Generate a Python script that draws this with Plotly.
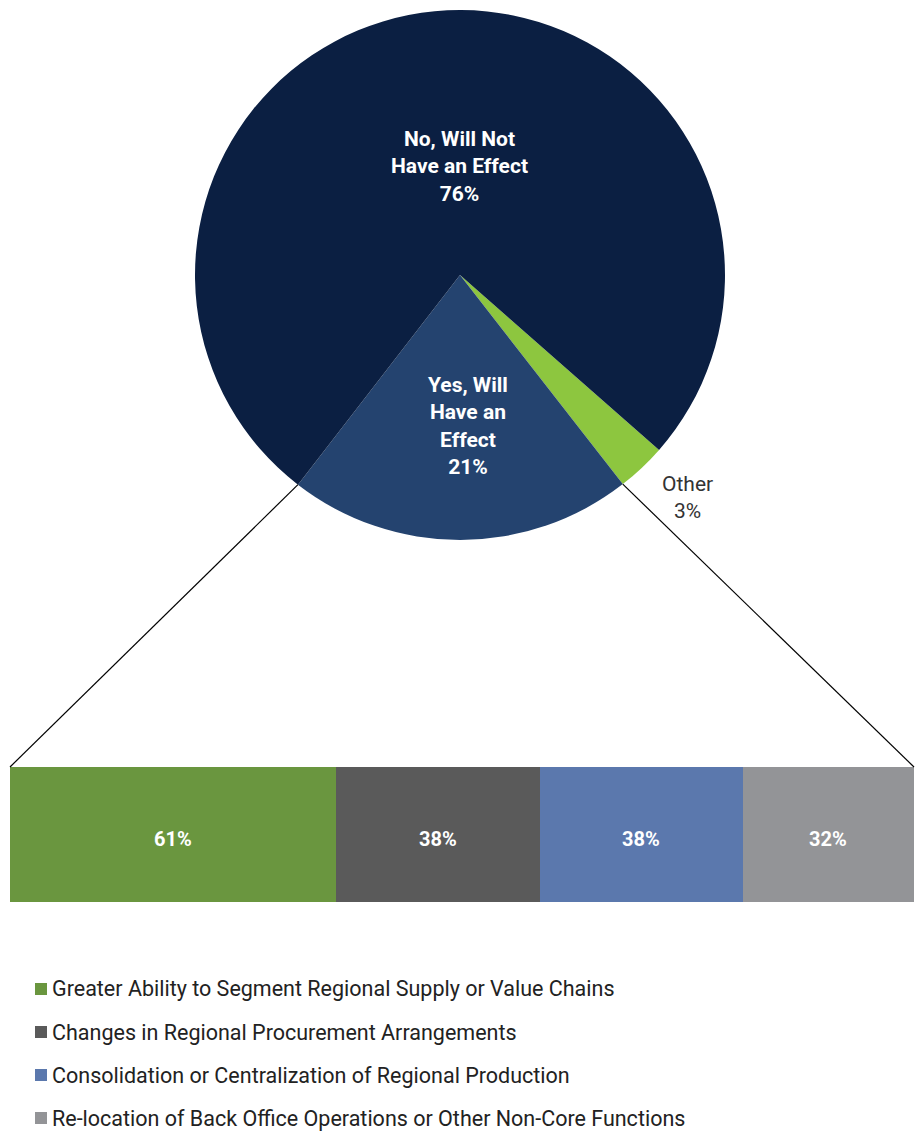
import math
import plotly.graph_objects as go

W, H = 919, 1131

# Survey response split (pie)
pie_labels = ["Other", "Yes, Will Have an Effect", "No, Will Not Have an Effect"]
pie_text = ["Other<br>3%", "Yes, Will<br>Have an<br>Effect<br>21%", "No, Will Not<br>Have an Effect<br>76%"]
pie_values = [3, 21, 76]
pie_colors = ["#8dc63f", "#24436f", "#0b1f42"]

# Breakdown of the "Yes" responses (stacked bar)
bar_labels = [
    "Greater Ability to Segment Regional Supply or Value Chains",
    "Changes in Regional Procurement Arrangements",
    "Consolidation or Centralization of Regional Production",
    "Re-location of Back Office Operations or Other Non-Core Functions",
]
bar_values = [61, 38, 38, 32]
bar_colors = ["#6a963f", "#5a5a5a", "#5b78ad", "#939497"]

FONT = "Roboto"

# Pie geometry (pixels)
cx, cy, R = 460, 275, 265
rotation = 131.3  # degrees clockwise from 12 o'clock where the first slice starts
pie_dom_x = [(cx - R) / W, (cx + R) / W]
pie_dom_y = [1 - (cy + R) / H, 1 - (cy - R) / H]

# Bar geometry (paper)
bar_dom_x = [10 / W, 914 / W]
bar_dom_y = [1 - 902 / H, 1 - 767 / H]

fig = go.Figure()

fig.add_trace(go.Pie(
    labels=pie_labels, values=pie_values, sort=False, direction="clockwise",
    rotation=rotation, marker=dict(colors=pie_colors, line=dict(width=0)),
    textinfo="none", hoverinfo="label+percent", showlegend=False,
    domain=dict(x=pie_dom_x, y=pie_dom_y),
))

for lab, val, col in zip(bar_labels, bar_values, bar_colors):
    fig.add_trace(go.Bar(
        x=[val], y=[0], orientation="h", name=lab, width=1,
        marker=dict(color=col, line=dict(width=0)),
        showlegend=False, hovertemplate=f"{lab}: %{{x}}%<extra></extra>",
    ))

# Value labels centred in each bar segment
left = 0
for val in bar_values:
    fig.add_annotation(x=left + val / 2, y=0, xref="x", yref="y",
                       text=f"{val}%", showarrow=False, yshift=-5,
                       font=dict(family=FONT, size=20, color="white",
                                 weight="bold"))
    left += val

# Slice boundary angles (clockwise from top, degrees)
total = sum(pie_values)
starts, a = [], rotation
for v in pie_values:
    starts.append(a)
    a += v / total * 360
ends = [s + v / total * 360 for s, v in zip(starts, pie_values)]


def to_paper(theta_deg, r):
    t = math.radians(theta_deg)
    px = cx + r * math.sin(t)
    py = cy - r * math.cos(t)
    return px / W, 1 - py / H


# Connector lines from the "Yes" slice edges to the bar corners
yes_i = 1
lx, ly = to_paper(ends[yes_i], R)
rx, ry = to_paper(starts[yes_i], R)
line_style = dict(color="black", width=1.2)
fig.add_shape(type="line", xref="paper", yref="paper", x0=lx, y0=ly,
              x1=bar_dom_x[0], y1=bar_dom_y[1], line=line_style)
fig.add_shape(type="line", xref="paper", yref="paper", x0=rx, y0=ry,
              x1=bar_dom_x[1], y1=bar_dom_y[1], line=line_style)

# Slice labels
label_r = [1.2 * R, 0.57 * R, 0.41 * R]
label_offset = [-2.3, -3, 5.4]
label_color = ["#333333", "white", "white"]
label_weight = ["normal", "bold", "bold"]
for i, txt in enumerate(pie_text):
    mid = (starts[i] + ends[i]) / 2 + label_offset[i]
    x, y = to_paper(mid, label_r[i])
    fig.add_annotation(x=x, y=y, xref="paper", yref="paper", text=txt,
                       showarrow=False, xanchor="center", yanchor="middle",
                       font=dict(family=FONT, size=21, color=label_color[i],
                                 weight=label_weight[i]))

# Legend: square swatch + category name per bar segment
leg_top, leg_step = 989, 43
for k, (lab, col) in enumerate(zip(bar_labels, bar_colors)):
    yc = leg_top + k * leg_step
    fig.add_shape(type="rect", xref="paper", yref="paper",
                  x0=35 / W, x1=47 / W, y0=1 - (yc + 6) / H, y1=1 - (yc - 6) / H,
                  fillcolor=col, line=dict(width=0))
    fig.add_annotation(x=51 / W, y=1 - yc / H, xref="paper", yref="paper",
                       text=lab, showarrow=False, xanchor="left",
                       yanchor="middle", borderpad=0,
                       font=dict(family=FONT, size=21.5, color="#222222"))

fig.update_layout(
    width=W, height=H, margin=dict(l=0, r=0, t=0, b=0),
    paper_bgcolor="white", plot_bgcolor="white",
    barmode="stack", bargap=0,
    xaxis=dict(domain=bar_dom_x, range=[0, sum(bar_values)], visible=False,
               fixedrange=True),
    yaxis=dict(domain=bar_dom_y, range=[-0.5, 0.5], visible=False,
               fixedrange=True),
    showlegend=False,
    font=dict(family=FONT),
)

fig.write_html("out.html")
